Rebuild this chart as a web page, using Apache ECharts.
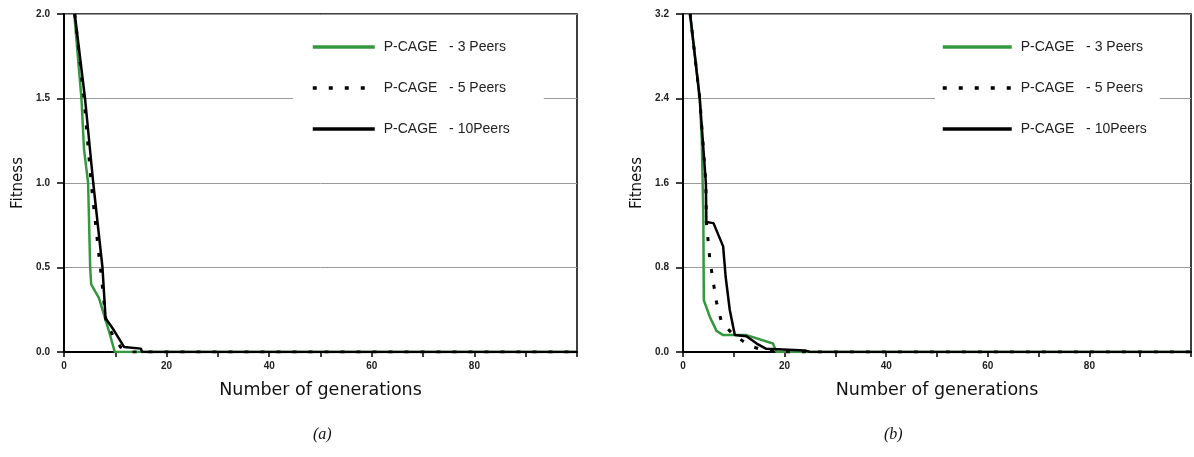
<!DOCTYPE html>
<html>
<head>
<meta charset="utf-8">
<script src="https://cdn.jsdelivr.net/npm/echarts@6/dist/echarts.min.js"></script>
<style>
  html, body { margin: 0; padding: 0; background: #fff; }
  #main { width: 1194px; height: 457px; }
</style>
</head>
<body>
<div id="main"></div>
<script>
// chart (a)
var genA3 = [2.0, 3.4, 3.9, 4.7, 5.1, 5.3, 6.8, 8.7, 9.9, 100];
var fitA3 = [2.0, 1.5, 1.2, 1.0, 0.5, 0.4, 0.32, 0.13, 0, 0];
var genA5 = [2.1, 3.9, 5.3, 6.6, 7.3, 8.2, 9.5, 11, 12.5, 100];
var fitA5 = [2.0, 1.5, 1.0, 0.63, 0.44, 0.18, 0.1, 0.03, 0, 0];
var genA10 = [2.1, 4.1, 5.7, 7.5, 8.1, 9.7, 11.7, 15, 15.2, 100];
var fitA10 = [2.0, 1.5, 1.0, 0.5, 0.2, 0.13, 0.03, 0.02, 0, 0];

// chart (b)
var genB3 = [1.4, 3.3, 3.7, 4.0, 4.1, 5.3, 6.6, 7.9, 12.5, 17.7, 18.4, 100];
var fitB3 = [3.2, 2.4, 2.0, 1.3, 0.49, 0.33, 0.2, 0.16, 0.16, 0.08, 0, 0];
var genB5 = [1.4, 3.3, 4.5, 4.6, 5.3, 6.0, 6.6, 7.6, 9.8, 13.1, 15, 20, 100];
var fitB5 = [3.2, 2.4, 1.6, 1.23, 0.87, 0.65, 0.47, 0.28, 0.17, 0.06, 0.03, 0, 0];
var genB10 = [1.4, 3.3, 4.5, 4.6, 6.0, 7.9, 8.4, 9.2, 10.2, 12.5, 14.5, 16.4, 24, 25, 100];
var fitB10 = [3.2, 2.4, 1.6, 1.23, 1.22, 1.0, 0.71, 0.4, 0.16, 0.15, 0.08, 0.03, 0.015, 0, 0];

var names = ['P-CAGE   - 3 Peers', 'P-CAGE   - 5 Peers', 'P-CAGE   - 10Peers'];
var xLabels = [0, 20, 40, 60, 80];
var yMaxA = 2.0, yStepA = 0.5;
var yMaxB = 3.2, yStepB = 0.8;

function zip(xs, ys) {
  return xs.map(function (x, i) { return [x, ys[i]]; });
}

var styles = [
  { color: '#35983f', width: 2.5, type: 'solid' },
  { color: '#000', width: 3, type: [4, 12] },
  { color: '#000', width: 2.5, type: 'solid' }
];

function mkSeries(name, data, idx, st) {
  return {
    name: name,
    type: 'line',
    xAxisIndex: idx,
    yAxisIndex: idx,
    data: data,
    symbol: 'none',
    animation: false,
    lineStyle: { color: st.color, width: st.width, type: st.type },
    itemStyle: { color: st.color }
  };
}

function xAxisOf(idx) {
  return {
    type: 'value', gridIndex: idx, min: 0, max: 100, interval: 10,
    name: 'Number of generations', nameLocation: 'middle', nameGap: 29,
    nameTextStyle: { fontFamily: 'DejaVu Sans', fontSize: 17.5, color: '#111' },
    axisLine: { show: true, lineStyle: { color: '#000', width: 2 } },
    axisTick: { show: true, length: 5, lineStyle: { color: '#000', width: 1.5 } },
    axisLabel: {
      margin: 9, fontFamily: 'Liberation Sans', fontWeight: 'bold', fontSize: 10, color: '#222',
      formatter: function (v) { return xLabels.indexOf(v) >= 0 ? String(v) : ''; }
    },
    splitLine: { show: false }
  };
}

function yAxisOf(idx, max, step) {
  return {
    type: 'value', gridIndex: idx, min: 0, max: max, interval: step,
    name: 'Fitness', nameLocation: 'middle', nameGap: 38,
    nameTextStyle: { fontFamily: 'DejaVu Sans', fontSize: 15, color: '#111' },
    axisLine: { show: true, lineStyle: { color: '#000', width: 2 } },
    axisTick: { show: true, length: 7, lineStyle: { color: '#000', width: 1.5 } },
    axisLabel: {
      margin: 14, fontFamily: 'Liberation Sans', fontWeight: 'bold', fontSize: 10, color: '#222',
      formatter: function (v) { return v.toFixed(1); }
    },
    splitLine: { show: true, lineStyle: { color: '#9a9a9a', width: 1 } }
  };
}

function legendOf(idx, left, w, pad) {
  return {
    data: names, orient: 'vertical', left: left, top: 33,
    itemWidth: w, itemHeight: 14, itemGap: 27,
    backgroundColor: '#fff', padding: pad,
    itemStyle: { color: 'transparent', borderColor: 'transparent', borderWidth: 0, opacity: 0 },
    lineStyle: { width: 3.5 },
    textStyle: { fontFamily: 'Liberation Sans', fontSize: 14, color: '#222', padding: [0, 0, 0, 4] }
  };
}

var chart = echarts.init(document.getElementById('main'), null, { renderer: 'canvas' });

chart.setOption({
  animation: false,
  backgroundColor: '#fff',
  grid: [
    { left: 64, right: 617, top: 14, bottom: 105, show: true, borderColor: '#000', borderWidth: 1.5, backgroundColor: 'transparent' },
    { left: 683, right: 2, top: 14, bottom: 105, show: true, borderColor: '#000', borderWidth: 1.5, backgroundColor: 'transparent' }
  ],
  xAxis: [xAxisOf(0), xAxisOf(1)],
  yAxis: [yAxisOf(0, yMaxA, yStepA), yAxisOf(1, yMaxB, yStepB)],
  legend: [
    legendOf(0, 293, 62, [7, 34, 7, 18]),
    legendOf(1, 935, 69, [7, 13, 7, 6])
  ],
  graphic: [
    { type: 'text', left: 313, top: 427, style: { text: '(a)', fontFamily: 'Liberation Serif', fontStyle: 'italic', fontSize: 16, fill: '#111' } },
    { type: 'text', left: 884, top: 427, style: { text: '(b)', fontFamily: 'Liberation Serif', fontStyle: 'italic', fontSize: 16, fill: '#111' } }
  ],
  series: [
    mkSeries(names[0], zip(genA3, fitA3), 0, styles[0]),
    mkSeries(names[1], zip(genA5, fitA5), 0, styles[1]),
    mkSeries(names[2], zip(genA10, fitA10), 0, styles[2]),
    mkSeries(names[0], zip(genB3, fitB3), 1, styles[0]),
    mkSeries(names[1], zip(genB5, fitB5), 1, styles[1]),
    mkSeries(names[2], zip(genB10, fitB10), 1, styles[2])
  ]
});
</script>
</body>
</html>
